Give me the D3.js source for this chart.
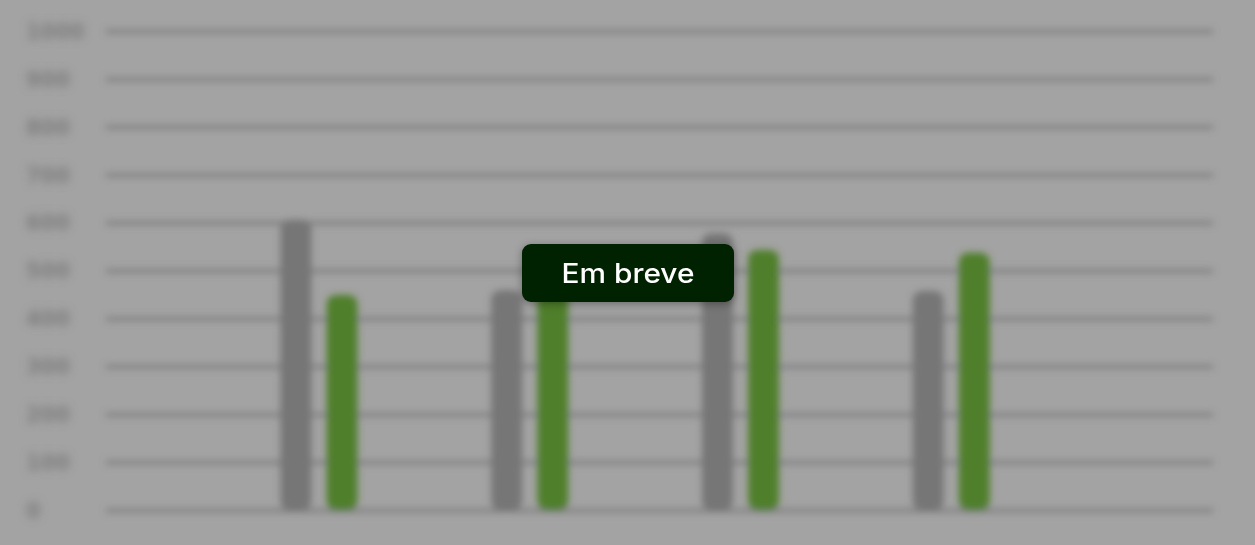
<!DOCTYPE html>
<html>
<head>
<meta charset="utf-8">
<script src="https://cdn.jsdelivr.net/npm/d3@7"></script>
<style>
  html, body { margin: 0; padding: 0; background: #a3a3a3; }
  svg { display: block; }
</style>
</head>
<body>
<div id="chart"></div>
<script>
// ---- data ----
const categories = ["1", "2", "3", "4"];
const seriesNames = ["anterior", "atual"];
const seriesGray = [606, 459, 578, 457];
const seriesGreen = [449, 468, 543, 537];
const yTicks = [0, 100, 200, 300, 400, 500, 600, 700, 800, 900, 1000];
const overlayLabel = "Em breve";

// ---- layout ----
const W = 1255, H = 545;
const svg = d3.select("#chart").append("svg").attr("width", W).attr("height", H);

const defs = svg.append("defs");
defs.append("filter").attr("id", "blur")
  .attr("x", "-5%").attr("y", "-5%").attr("width", "110%").attr("height", "110%")
  .append("feGaussianBlur").attr("stdDeviation", 3.6);
defs.append("filter").attr("id", "blur2")
  .attr("x", "-30%").attr("y", "-10%").attr("width", "160%").attr("height", "120%")
  .append("feGaussianBlur").attr("stdDeviation", 4.5);
const sh = defs.append("filter").attr("id", "shadow")
  .attr("x", "-20%").attr("y", "-40%").attr("width", "140%").attr("height", "180%");
sh.append("feDropShadow").attr("dx", 0).attr("dy", 2).attr("stdDeviation", 4)
  .attr("flood-color", "#000").attr("flood-opacity", 0.35);

svg.append("rect").attr("width", W).attr("height", H).attr("fill", "#a3a3a3");

const chart = svg.append("g").attr("filter", "url(#blur)");

const y = d3.scaleLinear().domain([0, 1000]).range([510, 31]);
const x0 = d3.scaleBand().domain(categories).range([213.5, 1056.5]).padding(0);
const x1 = d3.scaleBand().domain(seriesNames).range([67, 144]).paddingInner(0.33);

// gridlines via axis
const axis = d3.axisLeft(y).tickValues(yTicks).tickSize(-(1213 - 106)).tickFormat("");
const ag = chart.append("g").attr("transform", "translate(106,0)").call(axis);
ag.select(".domain").remove();
ag.selectAll(".tick line").attr("stroke", "#7a7a7a").attr("stroke-width", 3.5);

// tick labels (more blurred)
const labelAxis = d3.axisLeft(y).tickValues(yTicks).tickSize(0).tickFormat(d3.format("d"));
const lg = svg.append("g").attr("filter", "url(#blur2)").attr("transform", "translate(106,0)").call(labelAxis);
lg.select(".domain").remove();
lg.selectAll(".tick text")
  .attr("x", -80).attr("text-anchor", "start").attr("dy", "0.35em")
  .attr("fill", "#7e7e7e")
  .style("font-family", "'DejaVu Sans', sans-serif")
  .style("font-size", "21px").style("font-weight", "700");

// bars
const data = categories.map((c, i) => ({ c, vals: [
  { s: seriesNames[0], v: seriesGray[i], color: "#767676" },
  { s: seriesNames[1], v: seriesGreen[i], color: "#4f7f2a" }
]}));

const grp = chart.selectAll(".grp").data(data).join("g")
  .attr("transform", d => `translate(${x0(d.c)},0)`);
grp.selectAll("rect").data(d => d.vals).join("rect")
  .attr("x", d => x1(d.s))
  .attr("width", x1.bandwidth())
  .attr("y", d => y(d.v))
  .attr("height", d => y(0) - y(d.v))
  .attr("rx", 9).attr("ry", 9)
  .attr("fill", d => d.color);

// overlay button
const bx = 522, by = 244, bw = 212, bh = 58;
const btn = svg.append("g");
btn.append("rect").attr("x", bx).attr("y", by).attr("width", bw).attr("height", bh)
  .attr("rx", 9).attr("ry", 9).attr("fill", "#012101").attr("filter", "url(#shadow)");
btn.append("text").attr("x", bx + bw / 2).attr("y", by + bh / 2 + 9.5)
  .attr("text-anchor", "middle")
  .attr("fill", "#ffffff")
  .style("font-family", "Inter, 'Open Sans', sans-serif")
  .style("font-size", "27px").style("font-weight", "500")
  .attr("textLength", 133).attr("lengthAdjust", "spacingAndGlyphs")
  .text(overlayLabel);
</script>
</body>
</html>
